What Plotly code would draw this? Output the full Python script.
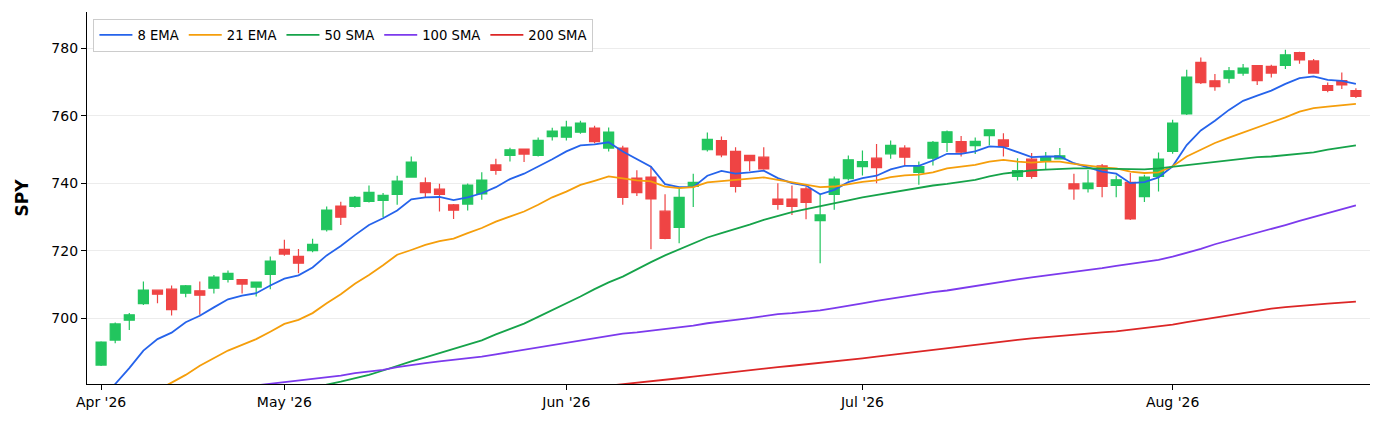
import pandas as pd
import plotly.graph_objects as go

# trading sessions shown (NYSE holidays skipped)
holidays = ["2026-05-25", "2026-06-19", "2026-07-03"]
dates = pd.bdate_range("2026-04-14", "2026-08-20", freq="C", holidays=holidays)
date_labels = [d.strftime("%Y-%m-%d") for d in dates]

opens = [686.1, 693.5, 699.4, 704.3, 708.3, 708.6, 707.4, 708.1, 708.9, 711.5,
         711.4, 709.2, 713.0, 720.4, 718.3, 720.0, 726.2, 733.2, 733.1, 734.6,
         734.9, 736.7, 741.8, 740.1, 738.2, 733.6, 733.8, 736.8, 745.4, 748.2,
         750.1, 748.2, 753.8, 753.6, 755.1, 756.3, 750.4, 750.4, 741.5, 741.8,
         731.7, 726.9, 739.0, 749.9, 752.6, 749.4, 748.2, 747.7, 735.3, 735.3,
         738.3, 728.9, 736.7, 741.3, 744.9, 747.4, 748.7, 750.4, 743.2, 747.4,
         752.1, 752.3, 751.1, 754.1, 752.8, 742.0, 747.1, 746.7, 747.2, 739.8,
         738.4, 745.1, 739.3, 740.2, 736.0, 742.0, 749.4, 760.5, 775.8, 770.3,
         771.1, 772.6, 774.8, 774.6, 774.9, 778.7, 776.2, 768.9, 770.4, 767.4]
highs = [693.2, 698.7, 701.5, 710.9, 708.5, 709.7, 709.8, 710.9, 712.8, 714.1,
         711.6, 710.9, 718.3, 723.2, 720.5, 723.5, 733.1, 734.5, 736.2, 739.3,
         737.1, 742.2, 747.9, 741.7, 739.8, 733.8, 739.9, 743.2, 747.2, 750.5,
         750.3, 753.5, 756.4, 758.5, 758.5, 757.0, 756.5, 751.1, 743.8, 745.1,
         736.7, 738.3, 742.8, 755.0, 753.8, 750.6, 748.4, 750.6, 740.0, 739.3,
         739.0, 736.5, 742.0, 748.2, 749.7, 751.6, 752.6, 751.2, 746.4, 752.5,
         755.6, 754.0, 753.5, 756.0, 754.8, 747.4, 748.9, 749.2, 750.4, 742.8,
         743.9, 745.7, 742.3, 743.0, 742.5, 749.1, 758.8, 773.6, 777.2, 772.3,
         774.4, 775.3, 775.0, 775.1, 779.5, 778.9, 776.8, 769.8, 772.8, 768.1]
lows = [685.8, 692.6, 696.5, 703.9, 704.4, 700.8, 706.2, 701.0, 707.3, 710.6,
        707.3, 706.4, 708.6, 718.5, 713.3, 719.5, 725.7, 727.6, 732.7, 734.3,
        729.9, 733.6, 741.7, 735.8, 731.6, 729.4, 731.9, 735.1, 742.5, 746.4,
        746.3, 747.9, 752.6, 752.6, 754.6, 751.8, 749.4, 733.6, 736.2, 720.4,
        723.4, 722.2, 732.9, 749.4, 747.7, 737.2, 743.5, 744.0, 732.1, 730.6,
        729.3, 716.3, 732.1, 740.8, 742.3, 740.0, 747.2, 745.1, 739.5, 745.2,
        749.2, 747.9, 748.6, 751.2, 747.9, 740.8, 741.3, 744.1, 747.0, 735.1,
        737.2, 735.8, 735.8, 729.1, 734.4, 737.5, 748.7, 760.2, 769.4, 767.4,
        769.6, 771.8, 769.1, 771.3, 773.8, 775.4, 772.4, 766.9, 767.9, 765.2]
closes = [692.9, 698.3, 701.0, 708.3, 707.1, 702.5, 709.6, 706.8, 712.2, 713.3,
          710.1, 710.7, 716.9, 719.0, 716.3, 721.9, 732.0, 729.9, 735.8, 737.3,
          736.4, 740.6, 746.2, 737.2, 736.7, 732.0, 739.4, 740.9, 743.8, 749.9,
          748.6, 752.7, 755.4, 756.6, 757.8, 752.3, 755.1, 735.8, 737.2, 735.3,
          723.6, 735.8, 740.2, 753.0, 748.4, 739.0, 746.7, 744.2, 733.7, 733.1,
          734.3, 730.6, 741.2, 746.9, 746.4, 744.6, 751.2, 747.7, 744.9, 752.1,
          755.2, 749.2, 752.4, 755.8, 750.9, 743.7, 742.0, 747.9, 748.1, 738.3,
          740.0, 739.0, 741.0, 729.4, 741.8, 747.1, 757.8, 771.4, 769.8, 768.6,
          773.3, 774.1, 770.4, 772.6, 778.0, 776.5, 772.6, 767.5, 769.1, 765.7]

ema8 = [675.2, 680.5, 685.2, 690.4, 693.8, 695.7, 698.8, 700.7, 703.2, 705.6,
        706.7, 707.4, 709.7, 711.7, 712.7, 715.0, 718.6, 721.4, 724.6, 727.6,
        729.6, 731.9, 735.2, 735.8, 735.9, 735.0, 735.8, 737.0, 738.8, 741.2,
        742.8, 744.9, 747.1, 749.4, 751.2, 751.5, 752.1, 749.4, 747.1, 744.9,
        739.7, 738.8, 738.8, 742.2, 743.6, 742.8, 743.2, 743.7, 741.5, 740.0,
        739.3, 736.7, 738.0, 740.3, 741.5, 742.2, 744.1, 745.1, 745.1, 746.7,
        748.7, 748.7, 749.4, 750.9, 750.7, 749.1, 747.7, 747.9, 747.9, 745.9,
        744.7, 743.4, 742.8, 740.0, 740.3, 741.7, 745.0, 751.3, 755.6, 758.5,
        761.7, 764.4, 765.9, 767.4, 769.4, 771.1, 771.6, 770.6, 770.3, 769.4]
ema21 = [667.0, 669.8, 672.6, 675.9, 678.7, 680.9, 683.2, 685.9, 688.1, 690.4,
         692.1, 693.8, 696.0, 698.3, 699.5, 701.5, 704.4, 707.1, 710.2, 712.8,
         715.7, 718.8, 720.2, 721.7, 722.8, 723.6, 725.2, 726.7, 728.6, 730.2,
         731.6, 733.6, 735.8, 737.5, 739.5, 740.7, 742.0, 741.4, 740.8, 740.5,
         739.0, 738.5, 738.8, 740.2, 740.6, 741.0, 741.3, 741.7, 741.0, 740.3,
         739.7, 738.8, 739.0, 739.8, 740.4, 740.8, 741.8, 742.3, 742.5, 743.2,
         744.4, 744.9, 745.4, 746.4, 746.9, 746.4, 746.1, 746.4, 746.4, 745.7,
         745.1, 744.7, 744.4, 743.4, 743.0, 743.2, 745.0, 747.9, 749.9, 751.9,
         753.5, 755.0, 756.3, 757.8, 759.5, 761.2, 762.2, 762.7, 763.2, 763.5]
sma50 = [None] * 14 + [
         678.2, 679.3, 680.3, 681.2, 682.2, 683.2,
         684.5, 685.9, 687.2, 688.4, 689.6, 690.8, 692.1, 693.4, 695.2, 696.8,
         698.4, 700.4, 702.4, 704.3, 706.4, 708.6, 710.6, 712.3, 714.5, 716.6,
         718.6, 720.4, 722.2, 723.9, 725.2, 726.4, 727.7, 729.1, 730.3, 731.4,
         732.3, 733.1, 734.1, 734.9, 735.8, 736.5, 737.3, 738.0, 738.8, 739.3,
         739.8, 740.4, 741.0, 742.0, 742.8, 743.3, 743.8, 744.0, 744.3, 744.4,
         744.4, 744.3, 744.1, 744.1, 744.1, 744.4, 744.9, 745.4, 745.9, 746.4,
         746.9, 747.3, 747.7, 747.9, 748.3, 748.7, 749.1, 749.9, 750.5, 751.2]
sma100 = [None] * 10 + [
          679.6, 680.1, 680.6, 681.0, 681.5, 681.9, 682.5, 683.0, 683.7, 684.2,
          684.7, 685.5, 686.2, 686.7, 687.2, 687.6, 688.1, 688.6, 689.3, 690.0,
          690.6, 691.4, 692.1, 692.8, 693.4, 694.1, 694.8, 695.4, 695.8, 696.3,
          696.7, 697.1, 697.8, 698.5, 699.1, 699.5, 700.0, 700.7, 701.2, 701.5,
          701.9, 702.3, 703.0, 703.8, 704.4, 705.1, 705.8, 706.4, 707.1, 707.7,
          708.2, 708.9, 709.6, 710.2, 710.8, 711.5, 712.1, 712.6, 713.1, 713.6,
          714.3, 714.8, 715.5, 716.1, 716.6, 717.3, 718.2, 719.3, 720.5, 721.9,
          723.0, 724.2, 725.3, 726.5, 727.6, 728.8, 729.9, 731.0, 732.2, 733.4]
sma200 = [None] * 36 + [
          680.0, 680.4, 680.8, 681.2,
          681.7, 682.2, 682.7, 683.2, 683.7, 684.2, 684.7, 685.1, 685.5, 685.9,
          686.3, 686.7, 687.2, 687.6, 688.1, 688.6, 689.1, 689.6, 690.1, 690.8,
          691.3, 691.8, 692.3, 692.8, 693.2, 693.6, 694.0, 694.4, 694.8, 695.1,
          695.4, 695.8, 696.1, 696.6, 697.1, 697.5, 698.1, 698.8, 699.5, 700.2,
          700.9, 701.5, 702.2, 702.8, 703.3, 703.7, 704.0, 704.3, 704.6, 704.9]

ma_lines = [
    ("8 EMA", ema8, "#2563eb"),
    ("21 EMA", ema21, "#f59e0b"),
    ("50 SMA", sma50, "#16a34a"),
    ("100 SMA", sma100, "#7c3aed"),
    ("200 SMA", sma200, "#dc2626"),
]

# first session of each month gets a tick
month_ticks, month_text = [], []
for d in dates:
    key = d.strftime("%b '%y")
    if key not in month_text:
        month_text.append(key)
        month_ticks.append(d.strftime("%Y-%m-%d"))

up = "#22c55e"
down = "#ef4444"

fig = go.Figure()
fig.add_trace(go.Candlestick(
    x=date_labels, open=opens, high=highs, low=lows, close=closes,
    increasing=dict(line=dict(color=up, width=1.2), fillcolor=up),
    decreasing=dict(line=dict(color=down, width=1.2), fillcolor=down),
    whiskerwidth=0,
    showlegend=False,
))
for name, vals, color in ma_lines:
    fig.add_trace(go.Scatter(
        x=date_labels, y=vals, mode="lines", name=name,
        line=dict(color=color, width=1.8),
    ))

fig.update_layout(
    width=1382, height=426,
    margin=dict(l=87, r=12, t=12, b=42),
    paper_bgcolor="white",
    plot_bgcolor="white",
    font=dict(family="DejaVu Sans", size=14, color="black"),
    boxgap=0.29,
    boxgroupgap=0,
    showlegend=True,
    legend=dict(
        orientation="h",
        x=0.005, y=0.982, xanchor="left", yanchor="top",
        bgcolor="white",
        bordercolor="#cccccc",
        borderwidth=1,
        itemwidth=33,
        font=dict(size=13.2),
    ),
    xaxis=dict(
        type="category",
        range=[-1, len(dates)],
        rangeslider=dict(visible=False),
        tickmode="array",
        tickvals=month_ticks,
        ticktext=month_text,
        showgrid=False,
        showline=True, linecolor="black", linewidth=1.2,
        ticks="outside", ticklen=5, tickcolor="black",
        tickfont=dict(size=14),
    ),
    yaxis=dict(
        range=[680.5, 790.7],
        tickvals=[700, 720, 740, 760, 780],
        showgrid=True, gridcolor="#ececec", gridwidth=1,
        zeroline=False,
        showline=True, linecolor="black", linewidth=1.2,
        ticks="outside", ticklen=5, tickcolor="black",
        tickfont=dict(size=14),
        title=dict(text="<b>SPY</b>", font=dict(size=17), standoff=18),
    ),
)

fig.write_html("out.html", config={"displayModeBar": False},
               post_script="document.body.style.margin = '0';")
